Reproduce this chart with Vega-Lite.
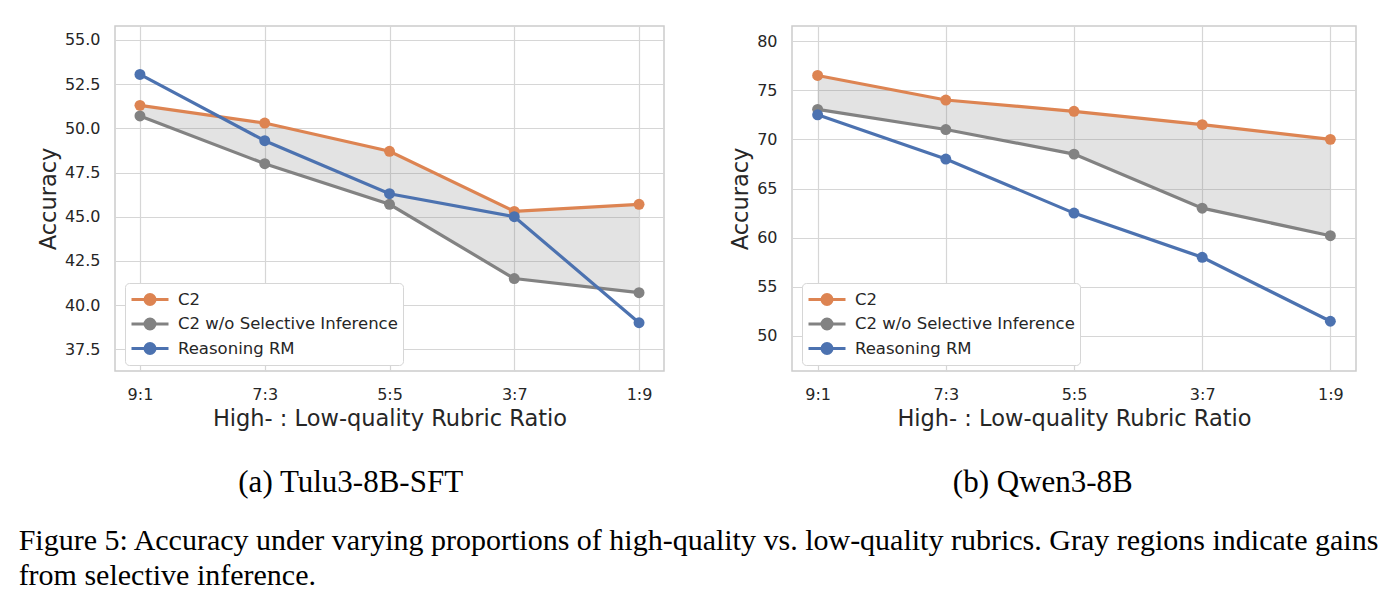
{
  "$schema": "https://vega.github.io/schema/vega-lite/v6.json",
  "background": "white",
  "padding": {"left": 18, "top": 25, "right": 5, "bottom": 5},
  "datasets": {
    "tulu": [
      {"ratio": "9:1", "C2": 51.3, "C2 w/o Selective Inference": 50.7, "Reasoning RM": 53.05},
      {"ratio": "7:3", "C2": 50.3, "C2 w/o Selective Inference": 48.0, "Reasoning RM": 49.3},
      {"ratio": "5:5", "C2": 48.7, "C2 w/o Selective Inference": 45.7, "Reasoning RM": 46.3},
      {"ratio": "3:7", "C2": 45.3, "C2 w/o Selective Inference": 41.5, "Reasoning RM": 45.0},
      {"ratio": "1:9", "C2": 45.7, "C2 w/o Selective Inference": 40.7, "Reasoning RM": 39.0}
    ],
    "qwen": [
      {"ratio": "9:1", "C2": 76.5, "C2 w/o Selective Inference": 73.05, "Reasoning RM": 72.5},
      {"ratio": "7:3", "C2": 74.0, "C2 w/o Selective Inference": 71.0, "Reasoning RM": 68.0},
      {"ratio": "5:5", "C2": 72.85, "C2 w/o Selective Inference": 68.5, "Reasoning RM": 62.5},
      {"ratio": "3:7", "C2": 71.5, "C2 w/o Selective Inference": 63.0, "Reasoning RM": 58.0},
      {"ratio": "1:9", "C2": 70.0, "C2 w/o Selective Inference": 60.2, "Reasoning RM": 51.5}
    ]
  },
  "config": {
    "view": {"stroke": "#cccccc", "strokeWidth": 1.5},
    "axis": {
      "domain": false,
      "ticks": false,
      "grid": true,
      "gridColor": "#d6d6d6",
      "gridWidth": 1.2,
      "labelFont": "DejaVu Sans",
      "labelFontSize": 16,
      "labelColor": "#262626",
      "labelPadding": 15,
      "titleFont": "DejaVu Sans",
      "titleFontSize": 22.5,
      "titleFontWeight": "normal",
      "titleColor": "#262626"
    },
    "axisX": {"labelAngle": 0, "titlePadding": 5},
    "axisY": {"titlePadding": 4},
    "legend": {
      "orient": "none",
      "legendX": 10,
      "legendY": 257,
      "fillColor": "white",
      "strokeColor": "#d6d6d6",
      "cornerRadius": 4,
      "padding": 5,
      "labelFont": "DejaVu Sans",
      "labelFontSize": 16.5,
      "labelColor": "#262626",
      "labelLimit": 400,
      "labelOffset": 25,
      "rowPadding": 1.5,
      "symbolType": "M-1,0L2.7,0M1.35,0A0.5,0.5,0,1,1,0.35,0A0.5,0.5,0,1,1,1.35,0",
      "symbolSize": 400,
      "symbolStrokeWidth": 3,
      "title": null
    }
  },
  "title": {
    "text": [
      "Figure 5: Accuracy under varying proportions of high-quality vs. low-quality rubrics. Gray regions indicate gains",
      "from selective inference."
    ],
    "orient": "bottom",
    "anchor": "start",
    "frame": "bounds",
    "font": "Liberation Serif",
    "fontSize": 30,
    "fontWeight": "normal",
    "color": "black",
    "lineHeight": 35,
    "offset": 28,
    "dx": -18
  },
  "spacing": 63,
  "resolve": {"scale": {"color": "independent"}, "legend": {"color": "independent"}},
  "hconcat": [
    {
      "width": 549,
      "height": 345,
      "data": {"name": "tulu"},
      "title": {
        "text": "(a) Tulu3-8B-SFT",
        "orient": "bottom",
        "anchor": "middle",
        "frame": "bounds",
        "font": "Liberation Serif",
        "fontSize": 31,
        "fontWeight": "normal",
        "color": "black",
        "offset": 38
      },
      "layer": [
        {
          "mark": {"type": "area", "color": "gray", "opacity": 0.22},
          "encoding": {
            "x": {"field": "ratio", "type": "ordinal", "sort": null, "scale": {"type": "point", "padding": 0.2}, "title": "High- : Low-quality Rubric Ratio"},
            "y": {"field": "C2", "type": "quantitative"},
            "y2": {"field": "C2 w/o Selective Inference"}
          }
        },
        {
          "transform": [{"fold": ["C2", "C2 w/o Selective Inference", "Reasoning RM"], "as": ["series", "acc"]}],
          "encoding": {
            "x": {"field": "ratio", "type": "ordinal", "sort": null, "scale": {"type": "point", "padding": 0.2}, "title": "High- : Low-quality Rubric Ratio"},
            "y": {"field": "acc", "type": "quantitative", "title": "Accuracy", "scale": {"domain": [36.27, 55.79], "nice": false, "zero": false}, "axis": {"values": [37.5, 40, 42.5, 45, 47.5, 50, 52.5, 55], "format": ".1f"}},
            "color": {"field": "series", "type": "nominal", "scale": {"domain": ["C2", "C2 w/o Selective Inference", "Reasoning RM"], "range": ["#dd8452", "#828282", "#4c72b0"]}}
          },
          "layer": [
            {"mark": {"type": "line", "strokeWidth": 3.2}},
            {"mark": {"type": "point", "filled": true, "opacity": 1, "size": 120}}
          ]
        }
      ]
    },
    {
      "width": 564,
      "height": 345,
      "data": {"name": "qwen"},
      "title": {
        "text": "(b) Qwen3-8B",
        "orient": "bottom",
        "anchor": "middle",
        "frame": "bounds",
        "font": "Liberation Serif",
        "fontSize": 31,
        "fontWeight": "normal",
        "color": "black",
        "offset": 38
      },
      "layer": [
        {
          "mark": {"type": "area", "color": "gray", "opacity": 0.22},
          "encoding": {
            "x": {"field": "ratio", "type": "ordinal", "sort": null, "scale": {"type": "point", "padding": 0.2}, "title": "High- : Low-quality Rubric Ratio"},
            "y": {"field": "C2", "type": "quantitative"},
            "y2": {"field": "C2 w/o Selective Inference"}
          }
        },
        {
          "transform": [{"fold": ["C2", "C2 w/o Selective Inference", "Reasoning RM"], "as": ["series", "acc"]}],
          "encoding": {
            "x": {"field": "ratio", "type": "ordinal", "sort": null, "scale": {"type": "point", "padding": 0.2}, "title": "High- : Low-quality Rubric Ratio"},
            "y": {"field": "acc", "type": "quantitative", "title": "Accuracy", "scale": {"domain": [46.44, 81.53], "nice": false, "zero": false}, "axis": {"values": [50, 55, 60, 65, 70, 75, 80]}},
            "color": {"field": "series", "type": "nominal", "scale": {"domain": ["C2", "C2 w/o Selective Inference", "Reasoning RM"], "range": ["#dd8452", "#828282", "#4c72b0"]}}
          },
          "layer": [
            {"mark": {"type": "line", "strokeWidth": 3.2}},
            {"mark": {"type": "point", "filled": true, "opacity": 1, "size": 120}}
          ]
        }
      ]
    }
  ]
}
